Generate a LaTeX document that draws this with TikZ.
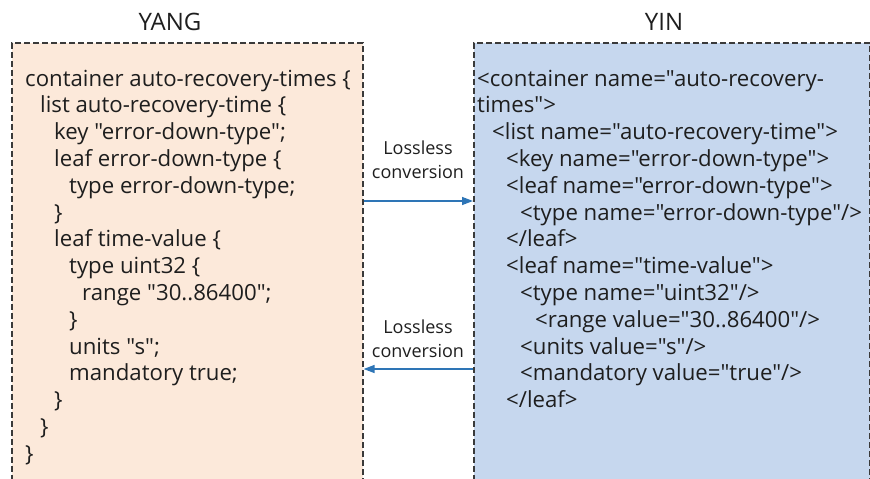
\documentclass[tikz,border=0pt]{standalone}
\usepackage{fontspec}
\newfontfamily\codefont{Open Sans}
\usetikzlibrary{arrows.meta}
\definecolor{yangfill}{HTML}{FCE9DA}
\definecolor{yinfill}{HTML}{C6D7EE}
\definecolor{edge}{HTML}{3A3A3A}
\definecolor{arrowblue}{HTML}{2E75B6}
\definecolor{txt}{HTML}{1E1E1E}
\tikzset{
  panel/.style={draw=edge, line width=1.6pt, dash pattern=on 6pt off 3pt, anchor=north west, inner sep=0pt},
  code/.style={anchor=base west, inner sep=0pt, text=txt, font=\codefont\fontsize{22.2}{26}\selectfont},
  title/.style={anchor=base, inner sep=0pt, text=txt, font=\codefont\fontsize{24}{28}\selectfont},
  lbl/.style={anchor=base, inner sep=0pt, text=txt, font=\codefont\fontsize{18}{22}\selectfont},
  conv/.style={draw=arrowblue, line width=1.4pt, -{Triangle[length=11pt,width=8pt]}},
}
\begin{document}
\begin{tikzpicture}[x=1pt,y=-1pt]
\useasboundingbox (0,0) rectangle (870,479);
\clip (0,0) rectangle (870,479);
\node[panel, fill=yangfill, minimum width=351pt, minimum height=450pt] (yang) at (11,42) {};
\node[panel, fill=yinfill, minimum width=396pt, minimum height=450pt] (yin) at (473,42) {};
\node[title] (tyang) at (170,30) {YANG};
\node[title] (tyin) at (664,30) {YIN};
% YANG text
\node[code] (a0) at (25,86) {container auto-recovery-times \{};
\node[code] (a1) at (40,112.8) {list auto-recovery-time \{};
\node[code] (a2) at (54,139.6) {key "error-down-type";};
\node[code] (a3) at (54,166.4) {leaf error-down-type \{};
\node[code] (a4) at (69,193.2) {type error-down-type;};
\node[code] (a5) at (54,220) {\}};
\node[code] (a6) at (54,246.8) {leaf time-value \{};
\node[code] (a7) at (69,273.6) {type uint32 \{};
\node[code] (a8) at (82,300.4) {range "30..86400";};
\node[code] (a9) at (69,327.2) {\}};
\node[code] (a10) at (69,354) {units "s";};
\node[code] (a11) at (69,380.8) {mandatory true;};
\node[code] (a12) at (54,407.6) {\}};
\node[code] (a13) at (40,434.4) {\}};
\node[code] (a14) at (25,461.2) {\}};
% YIN text
\node[code] (b0) at (477,86) {<container name="auto-recovery-};
\node[code] (b1) at (477,112.8) {times">};
\node[code] (b2) at (492,139.6) {<list name="auto-recovery-time">};
\node[code] (b3) at (506,166.4) {<key name="error-down-type">};
\node[code] (b4) at (506,193.2) {<leaf name="error-down-type">};
\node[code] (b5) at (520,220) {<type name="error-down-type"/>};
\node[code] (b6) at (506,246.8) {</leaf>};
\node[code] (b7) at (506,273.6) {<leaf name="time-value">};
\node[code] (b8) at (520,300.4) {<type name="uint32"/>};
\node[code] (b9) at (535,327.2) {<range value="30..86400"/>};
\node[code] (b10) at (520,354) {<units value="s"/>};
\node[code] (b11) at (520,380.8) {<mandatory value="true"/>};
\node[code] (b12) at (506,407.6) {</leaf>};
% labels
\node[lbl] (l1a) at (418,154) {Lossless};
\node[lbl] (l1b) at (418,178) {conversion};
\node[lbl] (l2a) at (418,333) {Lossless};
\node[lbl] (l2b) at (418,357) {conversion};
\coordinate (c1) at (418,201);
\coordinate (c2) at (418,369);
\draw[conv] (yang.east |- c1) -- (yin.west |- c1);
\draw[conv] (yin.west |- c2) -- (yang.east |- c2);
\end{tikzpicture}
\end{document}
